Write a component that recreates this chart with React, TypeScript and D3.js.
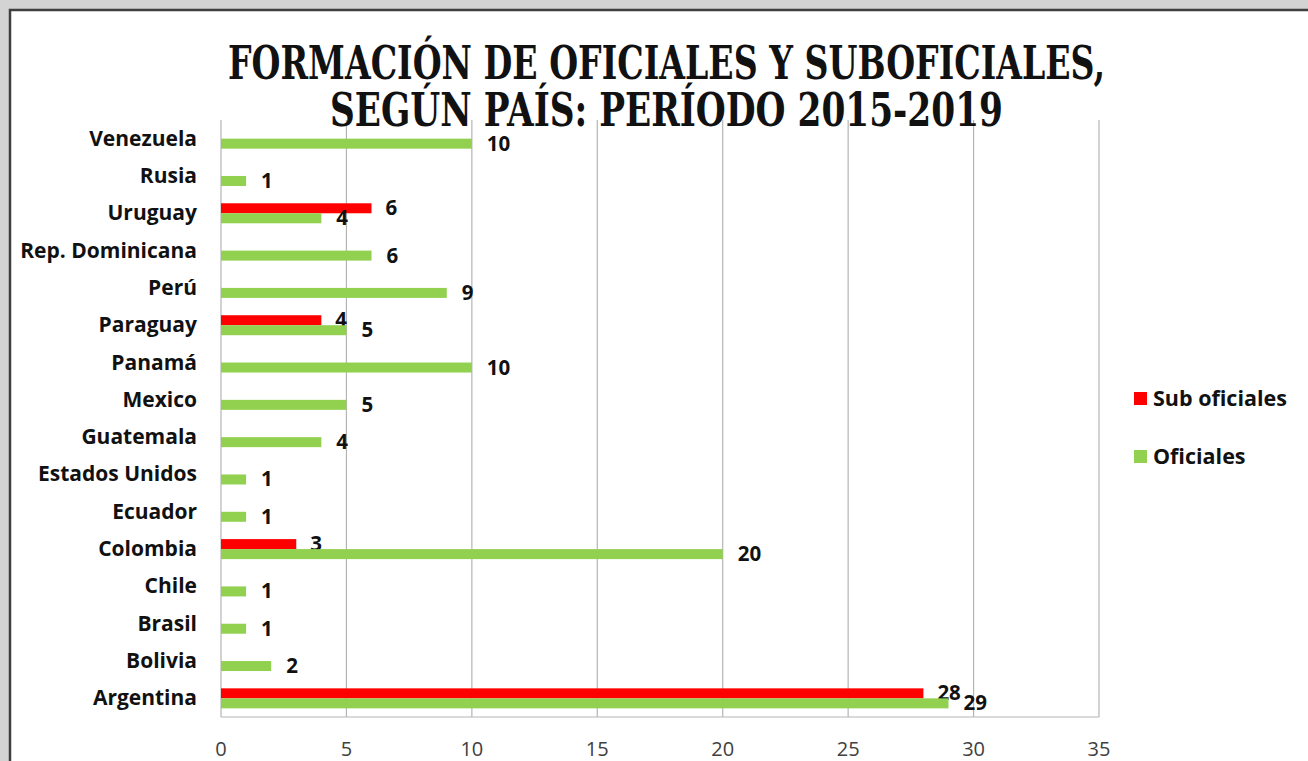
import React from "react";
import * as d3 from "d3";

const categories = [
  "Venezuela", "Rusia", "Uruguay", "Rep. Dominicana", "Perú", "Paraguay", "Panamá",
  "Mexico", "Guatemala", "Estados Unidos", "Ecuador", "Colombia", "Chile", "Brasil",
  "Bolivia", "Argentina",
];
const subOficiales: (number | null)[] = [null, null, 6, null, null, 4, null, null, null, null, null, 3, null, null, null, 28];
const oficiales: number[] = [10, 1, 4, 6, 9, 5, 10, 5, 4, 1, 1, 20, 1, 1, 2, 29];
const xTicks = [0, 5, 10, 15, 20, 25, 30, 35];
const titleLines = ["FORMACIÓN DE OFICIALES Y SUBOFICIALES,", "SEGÚN PAÍS: PERÍODO 2015-2019"];
const seriesNames = ["Sub oficiales", "Oficiales"];
const colors = ["#FF0000", "#92D050"];

export default function App() {
  const W = 1308, H = 761;
  const x = d3.scaleLinear().domain([0, 35]).range([221, 1099]);
  const y = d3.scaleBand<string>().domain(categories).range([120, 717]);
  const bh = 10;
  const font = "'Open Sans', Lato, sans-serif";
  return (
    <svg width={W} height={H} style={{ position: "absolute", left: 0, top: 0 }}>
      <rect x={0} y={0} width={W} height={H} fill="#d3d3d3" />
      <rect x={10} y={10} width={W + 20} height={H + 20} fill="#ffffff" stroke="#3f3f3f" strokeWidth={2.5} />
      {/* gridlines */}
      {xTicks.map((t) => (
        <line key={t} x1={x(t)} x2={x(t)} y1={120} y2={717} stroke="#b5b5b5" strokeWidth={1.2} />
      ))}
      <line x1={221} x2={1099} y1={717} y2={717} stroke="#b5b5b5" strokeWidth={1.2} />
      {/* bars */}
      {categories.map((c, i) => {
        const cy = (y(c) as number) + y.bandwidth() / 2;
        const s = subOficiales[i];
        const o = oficiales[i];
        return (
          <g key={c}>
            {s !== null && (
              <g>
                <rect x={x(0)} y={cy - bh} width={x(s) - x(0)} height={bh} fill={colors[0]} />
                <text x={x(s) + 14} y={cy - bh / 2 + 7} fontFamily={font} fontWeight={700} fontSize={20.5} fill="#111">{s}</text>
              </g>
            )}
            <rect x={x(0)} y={cy} width={x(o) - x(0)} height={bh} fill={colors[1]} />
            <text x={x(o) + 15} y={cy + bh / 2 + 7} fontFamily={font} fontWeight={700} fontSize={20.5} fill="#111">{o}</text>
            <text x={197} y={cy + 7} textAnchor="end" fontFamily={font} fontWeight={700} fontSize={21} fill="#111">{c}</text>
          </g>
        );
      })}
      {/* x tick labels */}
      {xTicks.map((t) => (
        <text key={t} x={x(t)} y={756} textAnchor="middle" fontFamily={font} fontSize={20} fill="#404040">{t}</text>
      ))}
      {/* title */}
      <text x={228} y={79} textLength={877} lengthAdjust="spacingAndGlyphs" fontFamily="'DejaVu Serif', serif" fontWeight={700} fontSize={46} fill="#111">{titleLines[0]}</text>
      <text x={330} y={126} textLength={673} lengthAdjust="spacingAndGlyphs" fontFamily="'DejaVu Serif', serif" fontWeight={700} fontSize={46} fill="#111">{titleLines[1]}</text>
      {/* legend */}
      {seriesNames.map((n, i) => (
        <g key={n}>
          <rect x={1134} y={392 + i * 58} width={13} height={13} fill={colors[i]} />
          <text x={1153} y={406 + i * 58} fontFamily={font} fontWeight={700} fontSize={21.5} fill="#111">{n}</text>
        </g>
      ))}
    </svg>
  );
}
